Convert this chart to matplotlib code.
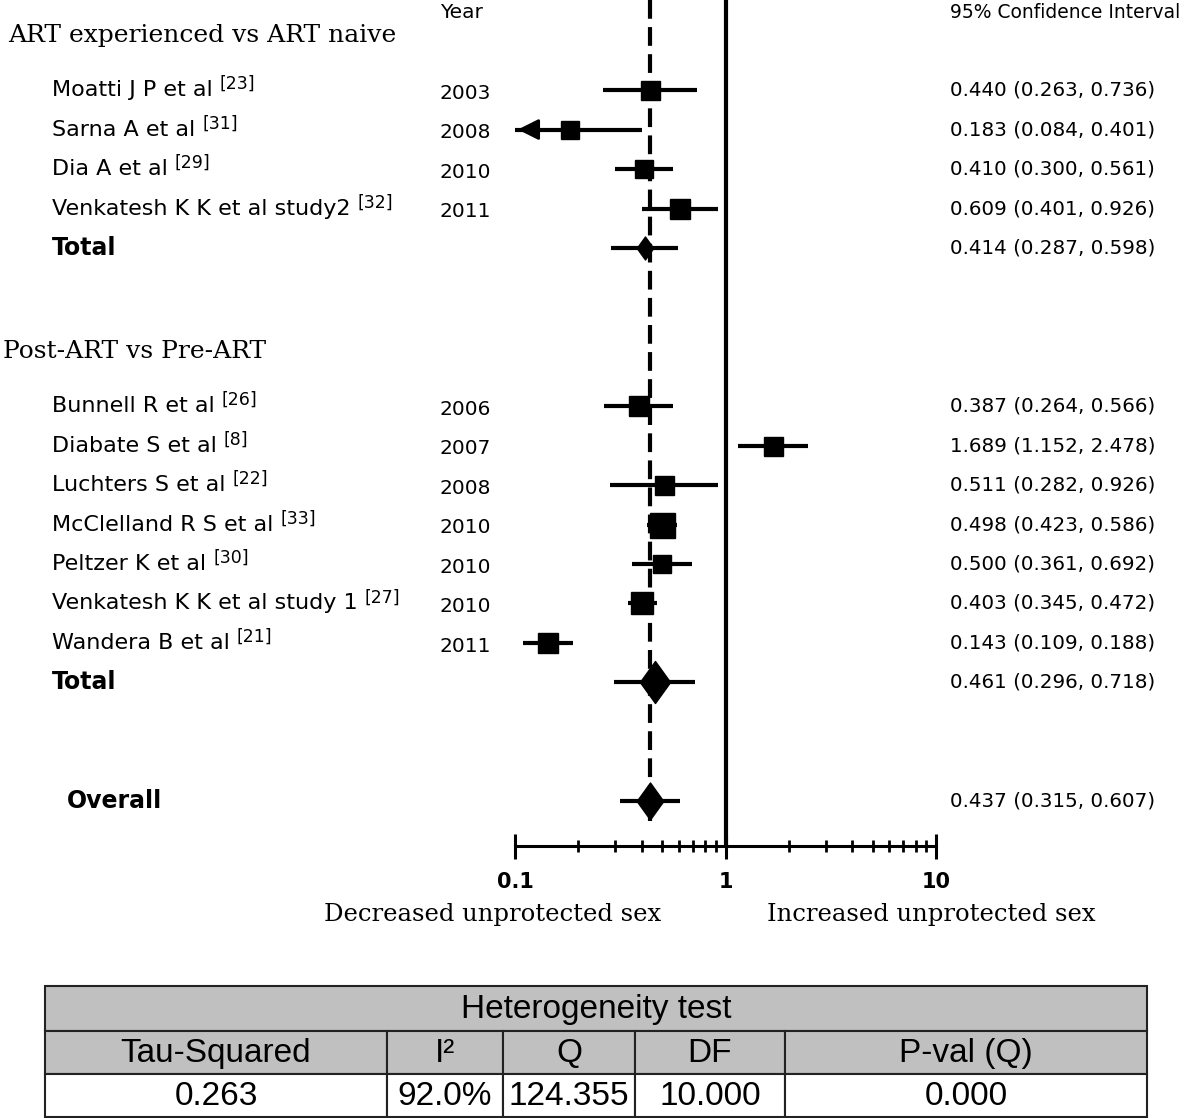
import numpy as np
import matplotlib.pyplot as plt
from matplotlib.path import Path
from matplotlib.patches import Rectangle
from matplotlib.ticker import LogLocator, NullFormatter
from matplotlib.transforms import blended_transform_factory

# ART experienced vs ART naive
names_1 = ["Moatti J P et al", "Sarna A et al", "Dia A et al", "Venkatesh K K et al study2"]
refs_1 = ["[23]", "[31]", "[29]", "[32]"]
years_1 = ["2003", "2008", "2010", "2011"]
or_1 = [0.440, 0.183, 0.410, 0.609]
lo_1 = [0.263, 0.084, 0.300, 0.401]
hi_1 = [0.736, 0.401, 0.561, 0.926]
total_1 = [0.414, 0.287, 0.598]

# Post-ART vs Pre-ART
names_2 = ["Bunnell R et al", "Diabate S et al", "Luchters S et al", "McClelland R S et al",
           "Peltzer K et al", "Venkatesh K K et al study 1", "Wandera B et al"]
refs_2 = ["[26]", "[8]", "[22]", "[33]", "[30]", "[27]", "[21]"]
years_2 = ["2006", "2007", "2008", "2010", "2010", "2010", "2011"]
or_2 = [0.387, 1.689, 0.511, 0.498, 0.500, 0.403, 0.143]
lo_2 = [0.264, 1.152, 0.282, 0.423, 0.361, 0.345, 0.109]
hi_2 = [0.566, 2.478, 0.926, 0.586, 0.692, 0.472, 0.188]
total_2 = [0.461, 0.296, 0.718]

overall = [0.437, 0.315, 0.607]

# таблица гетерогенности
het_cols = ["Tau-Squared", "I²", "Q", "DF", "P-val (Q)"]
het_vals = ["0.263", "92.0%", "124.355", "10.000", "0.000"]

# размеры квадратиков (px) и ромбов (px)
box_1 = [19, 18, 18, 20]
box_2 = [20, 19, 19, 25, 18, 22, 20]
diam_1, diam_2, diam_all = 23, 42, 37

W, H = 1200, 1118
PT = 72 / 100


def ci_text(v):
    return f"{v[0]:.3f} ({v[1]:.3f}, {v[2]:.3f})"


fig = plt.figure(figsize=(W / 100, H / 100), dpi=100)
ax = fig.add_axes([515 / W, 1 - 846 / H, (936 - 515) / W, 846 / H])
ax.set_xscale('log')
ax.set_xlim(0.1, 10)
ax.set_ylim(20.14, -1.28)
for s in ['top', 'right', 'left']:
    ax.spines[s].set_visible(False)
ax.spines['bottom'].set_linewidth(2.2)
ax.set_yticks([])
ax.set_xticks([0.1, 1, 10])
ax.set_xticklabels(['0.1', '1', '10'], fontsize=15, fontweight='bold')
ax.xaxis.set_minor_locator(LogLocator(base=10, subs=range(2, 10)))
ax.xaxis.set_minor_formatter(NullFormatter())
ax.tick_params(axis='x', which='major', direction='inout', length=18, width=2.2, pad=10)
ax.tick_params(axis='x', which='minor', direction='inout', length=8, width=2)

# строки
rows_1 = list(range(1, len(names_1) + 1))
row_t1 = rows_1[-1] + 1
row_h2 = row_t1 + 2.63
rows_2 = list(range(row_t1 + 4, row_t1 + 4 + len(names_2)))
row_t2 = rows_2[-1] + 1
row_all = row_t2 + 3

xmin = ax.get_xlim()[0]

# линия нулевого эффекта и линия общего эффекта
ax.axvline(1, color='black', lw=3)
ax.plot([overall[0], overall[0]], [ax.get_ylim()[1], row_all + 0.5], color='black',
        lw=3, dashes=(4.5, 2))

diamond = Path([(0, 1), (0.72, 0), (0, -1), (-0.72, 0), (0, 1)],
               [Path.MOVETO, Path.LINETO, Path.LINETO, Path.LINETO, Path.CLOSEPOLY])


def draw_study(y, est, lo, hi, size):
    ax.plot([max(lo, xmin), hi], [y, y], color='black', lw=3, solid_capstyle='butt')
    if lo < xmin:
        ax.annotate('', xy=(xmin, y), xytext=(xmin * 1.45, y),
                    arrowprops=dict(arrowstyle='-|>', color='black', lw=2,
                                    mutation_scale=32))
    ax.plot(est, y, marker='s', ms=size * PT, color='black')


def draw_total(y, vals, size):
    ax.plot([vals[1], vals[2]], [y, y], color='black', lw=3, solid_capstyle='butt')
    ax.plot(vals[0], y, marker=diamond, ms=size * PT, color='black')


for y, e, l, h, b in zip(rows_1, or_1, lo_1, hi_1, box_1):
    draw_study(y, e, l, h, b)
for y, e, l, h, b in zip(rows_2, or_2, lo_2, hi_2, box_2):
    draw_study(y, e, l, h, b)
draw_total(row_t1, total_1, diam_1)
draw_total(row_t2, total_2, diam_2)
draw_total(row_all, overall, diam_all)

# тексты слева и справа
tr = blended_transform_factory(fig.transFigure, ax.transData)
sans = 'DejaVu Sans'
serif = 'DejaVu Serif'

ax.text(440 / W, -0.97, "Year", transform=tr, fontsize=14.5, family=sans, va='center')
ax.text(950 / W, -0.97, "95% Confidence Interval", transform=tr, fontsize=13.5,
        family=sans, va='center')
ax.text(8 / W, -0.39, "ART experienced vs ART naive", transform=tr, fontsize=18,
        family=serif, va='center')
ax.text(3 / W, row_h2, "Post-ART vs Pre-ART", transform=tr, fontsize=18,
        family=serif, va='center')

for rows, names, refs, years, ors, los, his in [
        (rows_1, names_1, refs_1, years_1, or_1, lo_1, hi_1),
        (rows_2, names_2, refs_2, years_2, or_2, lo_2, hi_2)]:
    for y, n, r, yr, e, l, h in zip(rows, names, refs, years, ors, los, his):
        t = ax.text(52 / W, y, n, transform=tr, fontsize=16, family=sans, va='center')
        ax.annotate(r, xy=(1, 1), xycoords=t, xytext=(5, -3), textcoords='offset points',
                    fontsize=12.5, family=sans, va='center', ha='left')
        ax.text(440 / W, y + 0.08, yr, transform=tr, fontsize=14.5, family=sans, va='center')
        ax.text(950 / W, y, ci_text((e, l, h)), transform=tr, fontsize=14.3, family=sans,
                va='center')

for y, lab, x0, vals in [(row_t1, "Total", 52, total_1), (row_t2, "Total", 52, total_2),
                         (row_all, "Overall", 67, overall)]:
    ax.text(x0 / W, y, lab, transform=tr, fontsize=17, fontweight='bold', family=sans,
            va='center')
    ax.text(950 / W, y, ci_text(vals), transform=tr, fontsize=14.3, family=sans, va='center')

fig.text(493 / W, 1 - 915 / H, "Decreased unprotected sex", ha='center', va='center',
         fontsize=17.5, family=serif)
fig.text(931 / W, 1 - 915 / H, "Increased unprotected sex", ha='center', va='center',
         fontsize=17.5, family=serif)

# таблица гетерогенности
col_px = [45, 387, 503, 635, 785, 1147]
row_px = [986, 1031, 1074, 1117]
axt = fig.add_axes([0, 0, 1, 1])
axt.set_xlim(0, W)
axt.set_ylim(H, 0)
axt.axis('off')
tfont = dict(family='Liberation Sans', fontsize=24, ha='center', va='center')

axt.add_patch(Rectangle((col_px[0], row_px[0]), col_px[-1] - col_px[0], row_px[1] - row_px[0],
                        facecolor='#c0c0c0', edgecolor='#222222', lw=1.5))
axt.text((col_px[0] + col_px[-1]) / 2, (row_px[0] + row_px[1]) / 2 + 1, "Heterogeneity test",
         **tfont)
for i in range(len(het_cols)):
    x0, x1 = col_px[i], col_px[i + 1]
    axt.add_patch(Rectangle((x0, row_px[1]), x1 - x0, row_px[2] - row_px[1],
                            facecolor='#c0c0c0', edgecolor='#222222', lw=1.5))
    axt.add_patch(Rectangle((x0, row_px[2]), x1 - x0, row_px[3] - row_px[2],
                            facecolor='white', edgecolor='#222222', lw=1.5))
    axt.text((x0 + x1) / 2, (row_px[1] + row_px[2]) / 2 + 1, het_cols[i], **tfont)
    axt.text((x0 + x1) / 2, (row_px[2] + row_px[3]) / 2 + 1, het_vals[i], **tfont)

fig.savefig('out.png', dpi=100)
